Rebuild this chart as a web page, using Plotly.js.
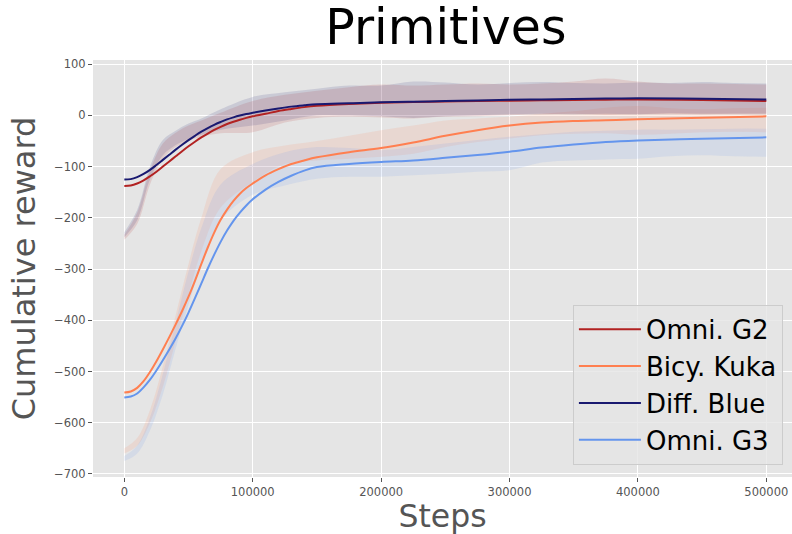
<!DOCTYPE html>
<html>
<head>
<meta charset="utf-8">
<script src="https://cdn.plot.ly/plotly-3.0.1.min.js"></script>
<style>html,body{margin:0;padding:0;background:#fff;overflow:hidden}</style>
</head>
<body>
<div id="chart" style="width:792px;height:534px"></div>
<script>
// ---- data ----
const seriesNames = ["Omni. G2", "Bicy. Kuka", "Diff. Blue", "Omni. G3"];
const seriesColors = ["#b22222", "#ff7f50", "#191970", "#6495ed"];

const meanSteps = [0, 5000, 10000, 15000, 20000, 25000, 30000, 35000, 40000, 45000, 50000, 55000, 60000, 65000, 70000, 75000, 80000, 85000, 90000, 95000, 100000, 110000, 120000, 130000, 140000, 150000, 175000, 200000, 225000, 250000, 275000, 300000, 325000, 350000, 375000, 400000, 450000, 500000];
const omniG2Mean   = [-138, -137, -133, -127, -119, -110, -100, -90, -80, -70, -60.5, -51.5, -43, -35.5, -28.5, -22.5, -17, -12.5, -8.5, -5, -2, 3, 8.5, 12.5, 16, 18.5, 22, 24.5, 26, 27, 28, 28.6, 29.3, 30, 30.5, 31, 30, 28];
const bicyKukaMean = [-541, -539, -532, -519, -501, -480, -457, -433, -408, -382, -354, -323, -290, -258, -229, -204, -184, -167, -153, -142, -133, -117, -105, -95, -88, -82, -72, -64, -53, -40, -29, -20, -14, -11, -9.5, -7.8, -4.5, -2];
const diffBlueMean = [-125.5, -124.5, -120.5, -114.5, -106.5, -97, -87, -77, -67, -57.5, -48.5, -40, -32, -25, -18.5, -13, -8, -4, -0.5, 2.5, 5, 9.5, 13.5, 17, 19.5, 21.5, 23.5, 25.3, 26.6, 27.8, 29, 30.2, 31.1, 32, 32.8, 33.5, 32.5, 31];
const omniG3Mean   = [-551, -549, -543, -531, -516, -498, -478, -457, -435, -411, -385, -357, -328, -299, -272, -247, -225, -206, -190, -176, -164, -145, -130, -118, -108, -101, -95, -91, -88, -83, -77.5, -71, -63, -57, -52, -49, -45.5, -43];

const bandSteps = [0, 10000, 20000, 30000, 40000, 50000, 60000, 75000, 100000, 125000, 150000, 175000, 200000, 225000, 250000, 275000, 300000, 325000, 350000, 375000, 400000, 425000, 450000, 475000, 500000];
const omniG2Upper   = [-233, -190, -108, -55, -34, -20, -10, 5, 28, 40, 48, 55, 60, 58, 60, 62, 60, 62, 66, 72, 66, 62, 62, 61, 60];
const omniG2Lower   = [-243, -212, -135, -85, -62, -50, -42, -35, -33, -14, -5, -3, -4, -6, -3, -2, 0, 2, 3, 1, 2, 3, 2, 3, 3];
const bicyKukaUpper = [-650, -630, -575, -490, -390, -290, -200, -105, -72, -59, -50, -40, -29, -20, -10, -6, -3, 3, 8, 15, 18, 14, 12, 14, 15];
const bicyKukaLower = [-660, -645, -600, -530, -440, -350, -265, -180, -130, -95, -88, -85, -81, -75, -62, -52, -45, -39, -36, -35, -38, -36, -33, -32, -33];
const diffBlueUpper = [-228, -185, -100, -48, -30, -16, -6, 12, 36, 45, 52, 58, 58, 66, 64, 60, 63, 65, 63, 62, 64, 63, 65, 63, 62];
const diffBlueLower = [-238, -205, -125, -78, -58, -46, -38, -28, -20, -10, 0, 0, -2, -5, -2, 0, 2, 3, 2, 3, 2, 4, 3, 3, 3];
const omniG3Upper   = [-665, -645, -590, -505, -405, -305, -220, -135, -95, -72, -62, -64, -68, -62, -55, -48, -42, -37, -32, -30, -28, -28, -27, -26, -26];
const omniG3Lower   = [-675, -660, -615, -545, -455, -370, -290, -205, -155, -137, -124, -120, -120, -117, -114, -110, -107, -92, -88, -86, -85, -80, -78, -80, -81];

const xTicks = [0, 100000, 200000, 300000, 400000, 500000];
const yTicks = [100, 0, -100, -200, -300, -400, -500, -600, -700];

// ---- build ----
const means = [omniG2Mean, bicyKukaMean, diffBlueMean, omniG3Mean];
const uppers = [omniG2Upper, bicyKukaUpper, diffBlueUpper, omniG3Upper];
const lowers = [omniG2Lower, bicyKukaLower, diffBlueLower, omniG3Lower];

function rgba(hex, a) {
  const r = parseInt(hex.slice(1,3),16), g = parseInt(hex.slice(3,5),16), b = parseInt(hex.slice(5,7),16);
  return `rgba(${r},${g},${b},${a})`;
}

const traces = [];
for (let i = 0; i < 4; i++) {
  traces.push({x: bandSteps, y: lowers[i], mode: 'lines', line: {width: 0, shape: 'spline', color: rgba(seriesColors[i], 0)},
    showlegend: false, hoverinfo: 'skip'});
  traces.push({x: bandSteps, y: uppers[i], mode: 'lines', line: {width: 0, shape: 'spline', color: rgba(seriesColors[i], 0)},
    fill: 'tonexty', fillcolor: rgba(seriesColors[i], 0.13), showlegend: false, hoverinfo: 'skip'});
}
for (let i = 0; i < 4; i++) {
  traces.push({x: meanSteps, y: means[i], mode: 'lines', name: seriesNames[i],
    line: {color: seriesColors[i], width: 2, shape: 'spline'}});
}

const axisCommon = {
  showgrid: true, gridcolor: '#ffffff', gridwidth: 1, zeroline: false,
  ticks: 'outside', ticklen: 4, tickwidth: 1, tickcolor: '#555555',
  tickfont: {family: 'DejaVu Sans', size: 11.5, color: '#555555'},
  showline: false
};

const layout = {
  width: 792, height: 534,
  margin: {l: 93, r: 0, t: 60, b: 57, pad: 0},
  paper_bgcolor: '#ffffff', plot_bgcolor: '#e5e5e5',
  font: {family: 'DejaVu Sans'},
  title: {text: 'Primitives', font: {family: 'DejaVu Sans', size: 49, color: '#000000'}, x: 0.563, xanchor: 'center', y: 0.95, yanchor: 'middle'},
  xaxis: Object.assign({}, axisCommon, {
    range: [-24400, 520000], tickvals: xTicks, ticktext: xTicks.map(String),
    title: {text: 'Steps', font: {family: 'DejaVu Sans', size: 31.5, color: '#555555'}, standoff: 6}
  }),
  yaxis: Object.assign({}, axisCommon, {
    range: [-706, 108], tickvals: yTicks, ticktext: yTicks.map(v => v < 0 ? '\u2212' + Math.abs(v) : String(v)),
    title: {text: 'Cumulative reward', font: {family: 'DejaVu Sans', size: 32, color: '#555555'}, standoff: 8}
  }),
  showlegend: true,
  legend: {
    x: 0.987, xanchor: 'right', y: 0.029, yanchor: 'bottom', traceorder: 'normal',
    itemwidth: 62,
    bgcolor: 'rgba(229,229,229,0.8)', bordercolor: '#cccccc', borderwidth: 1,
    font: {family: 'DejaVu Sans', size: 26, color: '#000000'}
  }
};

Plotly.newPlot('chart', traces, layout, {displayModeBar: false, staticPlot: true});
</script>
</body>
</html>
